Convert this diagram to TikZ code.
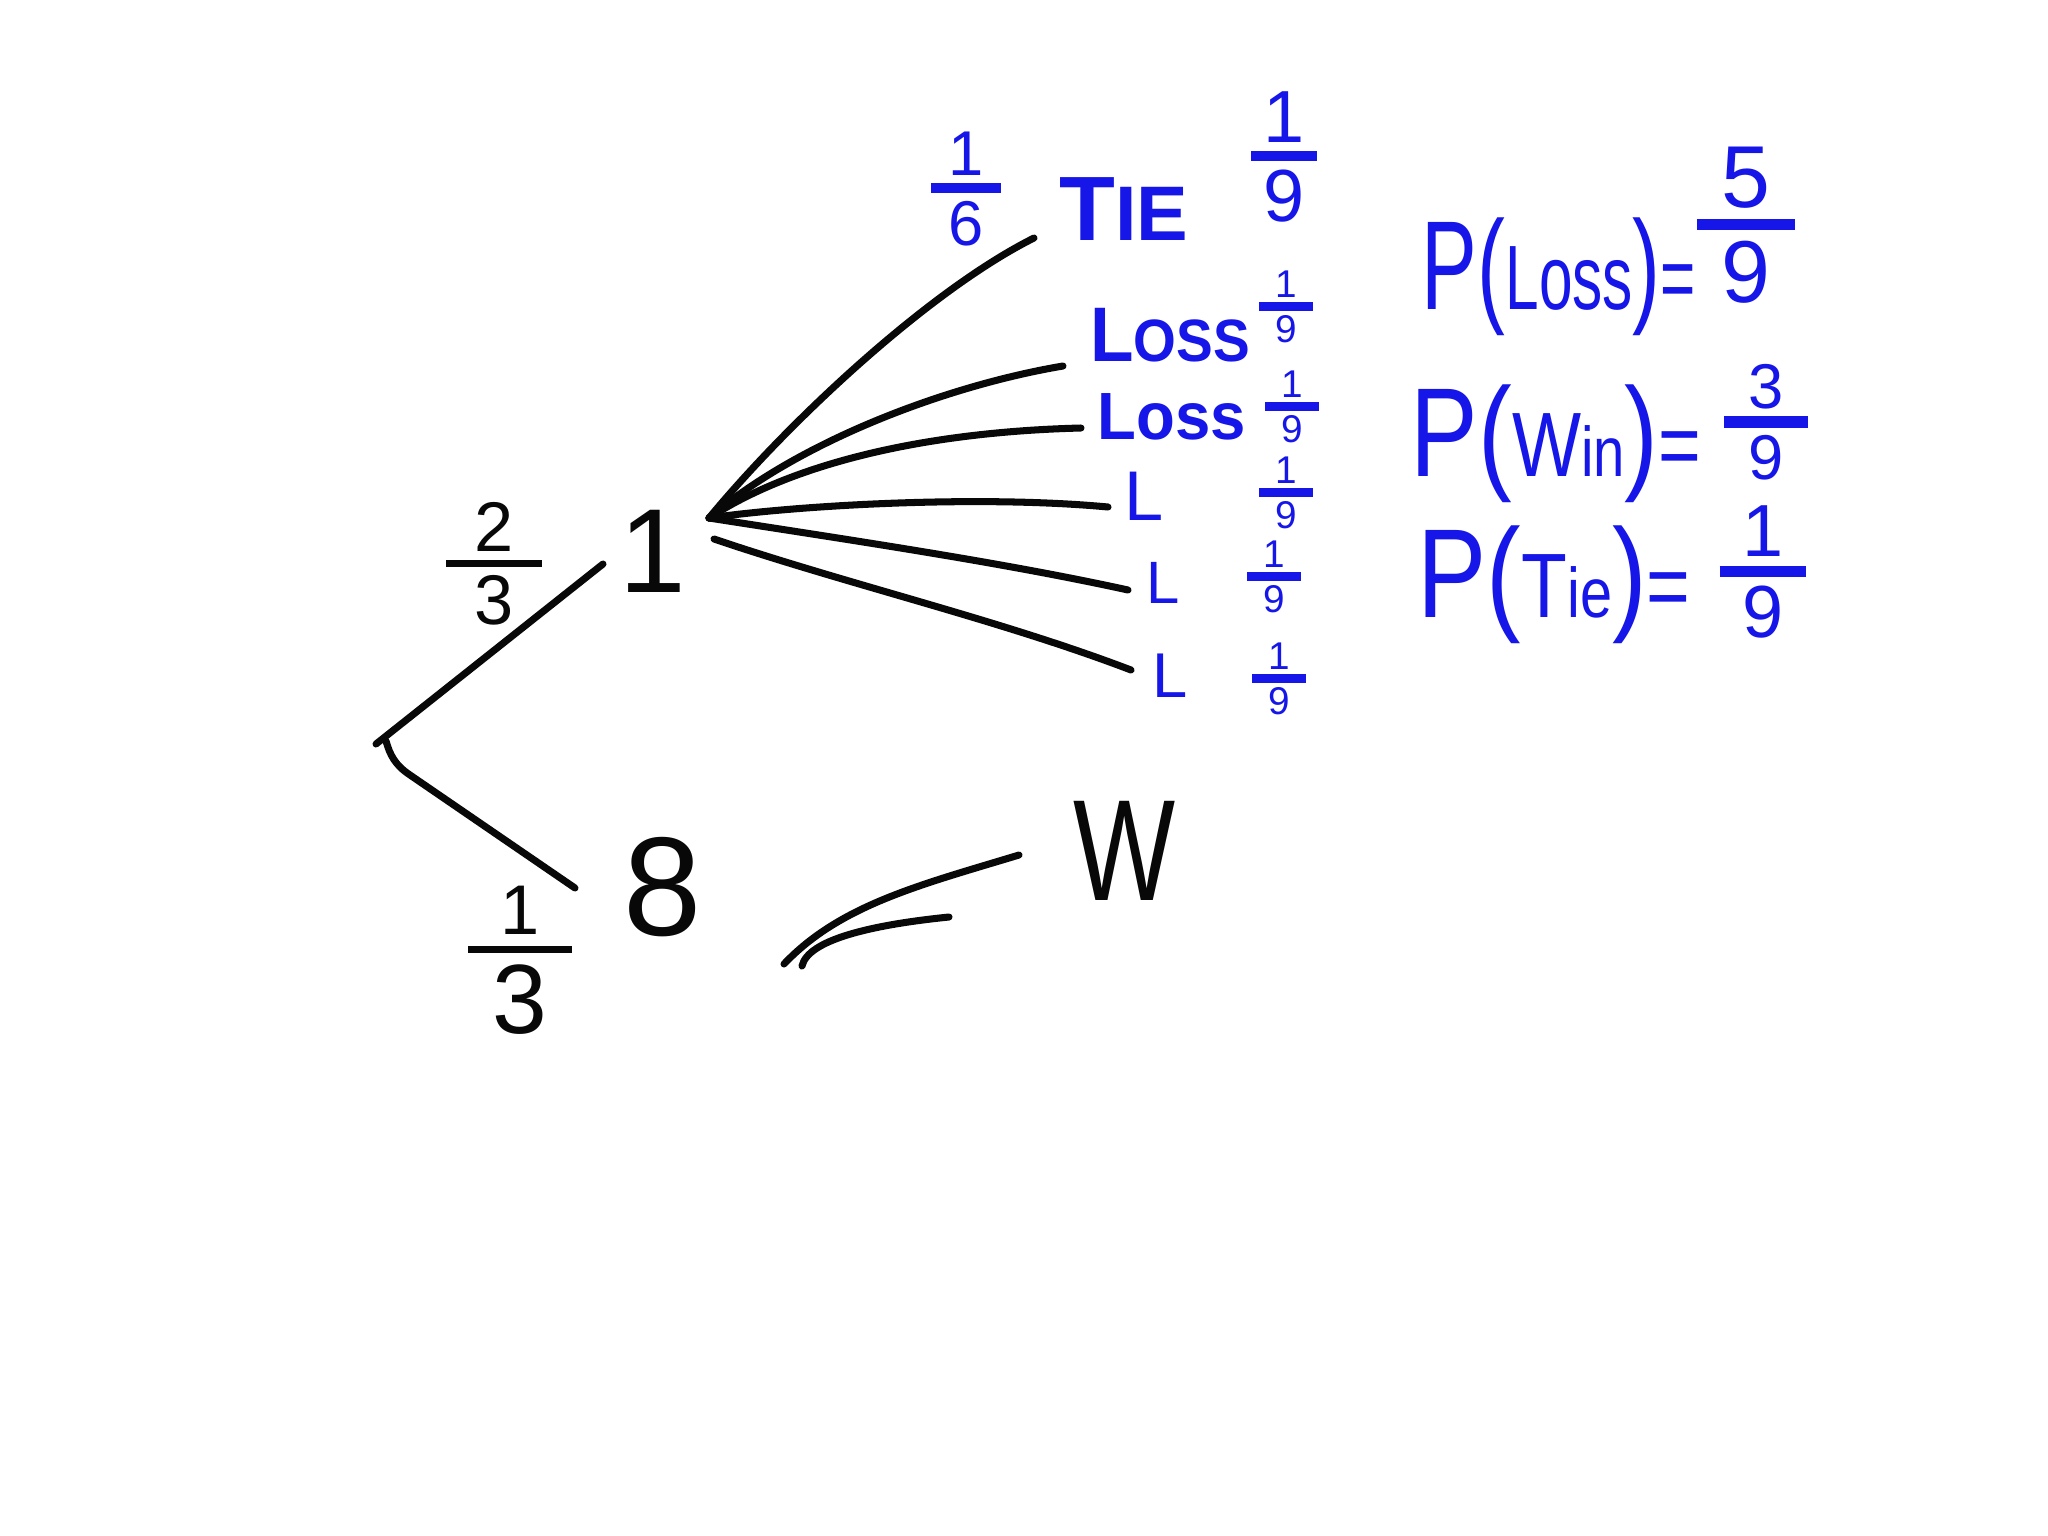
\documentclass[tikz,border=0pt]{standalone}
\usepackage{fontspec}
\setmainfont{Liberation Sans}
\definecolor{ink}{RGB}{8,8,8}
\definecolor{pen}{RGB}{22,22,232}
\newcommand\fs[1]{\fontsize{#1}{#1}\selectfont}
% hand fraction: #1 side padding, #2 bar thickness, #3 numerator, #4 denominator
\newcommand\hfr[4]{\vbox{\halign{\hfil\hskip#1##\hskip#1\hfil\cr #3\cr\noalign{\kern.12em\hrule height #2\kern.12em}#4\cr}}}
\begin{document}
\begin{tikzpicture}[x=0.01cm,y=-0.01cm,line cap=round,line join=round,
  blk/.style={text=ink,inner sep=0pt},
  blu/.style={text=pen,inner sep=0pt,font=\bfseries},
  bigblu/.style={text=pen,inner sep=0pt},
  branch/.style={draw=ink,line width=2pt}]
\useasboundingbox[fill=white] (0,0) rectangle (2048,1536);

% ---------- black tree ----------
\coordinate (root) at (376,744);
\coordinate (root2) at (386,741);
\coordinate (a1) at (603,564);
\coordinate (a2) at (575,888);
\coordinate (hub) at (709,518);
\coordinate (hub2) at (714,539);

\node[blk,font=\fs{34}] (n1) at (653,551) {1};
\node[blk,font=\fs{40}] (n8) at (663,887) {8};
\node[blk,font=\fs{41}] (nW) at (1125,851) {\scalebox{0.75}[1]{W}};
\node[blk,font=\fs{20}] (f23) at (494,564) {\hfr{8pt}{2pt}{2}{3}};
\node[blk,font=\fs{28}] (f13) at (520,960) {\hfr{7pt}{2pt}{\fs{20}1}{3}};

\draw[branch] (root) -- (a1);
\draw[branch] (root2) .. controls (390,755) and (395,765) .. (410,775) -- (a2);

% ---------- branches from 1 ----------
\coordinate (b1) at (1034,238);
\coordinate (b2) at (1063,366);
\coordinate (b3) at (1081,428);
\coordinate (b4) at (1108,507);
\coordinate (b5) at (1128,590);
\coordinate (b6) at (1131,670);
\draw[branch] (hub) .. controls (790,420) and (930,290) .. (b1);
\draw[branch] (hub) .. controls (800,440) and (950,385) .. (b2);
\draw[branch] (hub) .. controls (790,465) and (920,432) .. (b3);
\draw[branch] (hub) .. controls (800,505) and (980,495) .. (b4);
\draw[branch] (hub) .. controls (850,540) and (1000,562) .. (b5);
\draw[branch] (hub2) .. controls (850,585) and (1000,620) .. (b6);

% ---------- 8 to W strokes ----------
\coordinate (c1a) at (784,964);
\coordinate (c1b) at (1019,855);
\coordinate (c2a) at (802,966);
\coordinate (c2b) at (949,917);
\draw[branch] (c1a) .. controls (840,905) and (920,885) .. (c1b);
\draw[branch] (c2a) .. controls (808,940) and (870,925) .. (c2b);

% ---------- blue labels on the tree ----------
\node[blu,font=\fs{18}] (f16) at (966,189) {\hfr{5pt}{2.8pt}{1}{6}};
\node[blu] (tie) at (1124,209) {{\fs{26}T}{\fs{22}IE}};
\node[blu,font=\fs{21}] (f19a) at (1284,157) {\hfr{3.5pt}{2.8pt}{1}{9}};

\node[blu] (loss1) at (1170,335) {\scalebox{0.92}[1]{{\fs{22}L}{\fs{17}OSS}}};
\node[blu,font=\fs{11}] (f19b) at (1286,307) {\hfr{4.5pt}{2.6pt}{1}{9}};

\node[blu] (loss2) at (1172,417) {\scalebox{0.95}[1]{\fs{19}Loss}};
\node[blu,font=\fs{11}] (f19c) at (1292,407) {\hfr{4.5pt}{2.6pt}{1}{9}};

\node[blu,font=\fs{20}] (l1) at (1144,496) {L};
\node[blu,font=\fs{11}] (f19d) at (1286,493) {\hfr{4.5pt}{2.6pt}{1}{9}};

\node[blu,font=\fs{17}] (l2) at (1163,583) {L};
\node[blu,font=\fs{11}] (f19e) at (1274,577) {\hfr{4.5pt}{2.6pt}{1}{9}};

\node[blu,font=\fs{18}] (l3) at (1170,676) {L};
\node[blu,font=\fs{11}] (f19f) at (1279,679) {\hfr{4.5pt}{2.6pt}{1}{9}};

% ---------- blue results ----------
\node[bigblu] (pl) at (1559,277) {\scalebox{0.66}[1]{{\fs{36}P(}{\fs{26}Loss}{\fs{36})}{\fs{26}=}}};
\node[bigblu,font=\fs{25}] (f59) at (1746,225) {\hfr{7pt}{3.2pt}{5}{9}};

\node[bigblu] (pw) at (1556,444) {\scalebox{0.8}[1]{{\fs{36}P(}{\fs{26}W}{\fs{20}in}{\fs{36})}{\fs{26}=}}};
\node[bigblu,font=\fs{18}] (f39) at (1766,422) {\hfr{7pt}{3.2pt}{3}{9}};

\node[bigblu] (pt) at (1554,585) {\scalebox{0.82}[1]{{\fs{36}P(}{\fs{26}T}{\fs{20}ie}{\fs{36})}{\fs{26}=}}};
\node[bigblu,font=\fs{21}] (f19g) at (1763,572) {\hfr{6.5pt}{3.2pt}{1}{9}};
\end{tikzpicture}
\end{document}
